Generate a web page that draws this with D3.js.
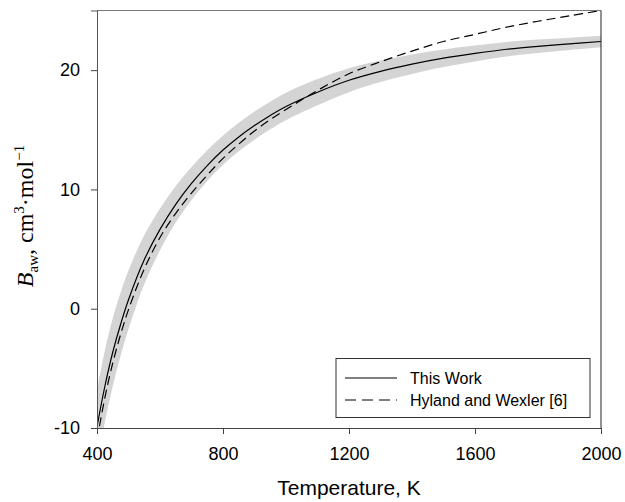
<!DOCTYPE html>
<html>
<head>
<meta charset="utf-8">
<script src="https://cdn.jsdelivr.net/npm/d3@7"></script>
<style>
  body { margin: 0; background: #fff; }
  svg { display: block; }
</style>
</head>
<body>
<svg id="chart" width="625" height="502"></svg>
<script>
// Data
const temperature = [400, 425, 450, 475, 500, 550, 600, 650, 700, 750, 800, 850, 900, 950, 1000,
                     1100, 1200, 1300, 1400, 1500, 1600, 1700, 1800, 1900, 2000];
const thisWork = [-9.9, -6.5, -3.65, -1.3, 0.75, 4.1, 6.65, 8.75, 10.5, 12.0, 13.3, 14.4, 15.35, 16.2, 16.95,
                  18.15, 19.15, 19.9, 20.5, 21.0, 21.4, 21.75, 22.0, 22.2, 22.4];
const thisWorkUnc = [3.1, 3.0, 2.85, 2.65, 2.45, 2.05, 1.75, 1.53, 1.38, 1.29, 1.23, 1.2, 1.18, 1.16, 1.15,
                     1.1, 1.0, 0.9, 0.82, 0.74, 0.67, 0.61, 0.56, 0.52, 0.49];
const hylandWexler = [-11.0, -7.45, -4.55, -2.15, -0.08, 3.34, 5.97, 8.0, 9.7, 11.2, 12.6, 13.8, 14.9, 15.85, 16.7,
                      18.3, 19.7, 20.7, 21.6, 22.4, 23.0, 23.6, 24.1, 24.55, 25.0];
const xTicks = [400, 800, 1200, 1600, 2000];
const yTicks = [-10, 0, 10, 20];
const legendLabels = ["This Work", "Hyland and Wexler [6]"];

const margin = { top: 10.5, right: 24, bottom: 74, left: 97 };
const width = 625, height = 502;
const svg = d3.select("#chart");

const x = d3.scaleLinear().domain([400, 2000]).range([margin.left, width - margin.right]);
const y = d3.scaleLinear().domain([-10, 25]).range([height - margin.bottom, margin.top]);
const curve = d3.curveCatmullRom.alpha(0.5);

const rows = temperature.map((t, i) => ({ t, w: thisWork[i], u: thisWorkUnc[i], h: hylandWexler[i] }));

svg.append("clipPath").attr("id", "plot-clip")
  .append("rect")
  .attr("x", margin.left).attr("y", margin.top)
  .attr("width", x.range()[1] - margin.left)
  .attr("height", y.range()[0] - margin.top);

const plot = svg.append("g").attr("clip-path", "url(#plot-clip)");

// uncertainty band
plot.append("path")
  .datum(rows)
  .attr("fill", "#d4d4d4")
  .attr("d", d3.area()
    .curve(curve)
    .x(d => x(d.t))
    .y0(d => y(d.w - d.u))
    .y1(d => y(d.w + d.u)));

// Hyland and Wexler
plot.append("path")
  .datum(rows)
  .attr("fill", "none")
  .attr("stroke", "#000")
  .attr("stroke-width", 1.2)
  .attr("stroke-dasharray", "9,5")
  .attr("d", d3.line().curve(curve).x(d => x(d.t)).y(d => y(d.h)));

// This work
plot.append("path")
  .datum(rows)
  .attr("fill", "none")
  .attr("stroke", "#000")
  .attr("stroke-width", 1.2)
  .attr("d", d3.line().curve(curve).x(d => x(d.t)).y(d => y(d.w)));

// frame: top lighter, right dark
svg.append("line")
  .attr("x1", margin.left).attr("x2", x.range()[1])
  .attr("y1", margin.top).attr("y2", margin.top)
  .attr("stroke", "#777");
svg.append("line")
  .attr("x1", x.range()[1]).attr("x2", x.range()[1])
  .attr("y1", margin.top).attr("y2", y.range()[0])
  .attr("stroke", "#222");

// axes
const xAxis = d3.axisBottom(x).tickValues(xTicks).tickSize(6).tickPadding(13)
  .tickFormat(d => String(d));
const yAxis = d3.axisLeft(y).tickValues(yTicks).tickSize(6).tickPadding(11)
  .tickFormat(d => String(d));

svg.append("g")
  .attr("transform", "translate(0," + y.range()[0] + ")")
  .call(xAxis)
  .call(g => g.select(".domain").attr("stroke", "#444"))
  .call(g => g.selectAll(".tick line").attr("stroke", "#444"))
  .selectAll("text")
  .style("font-family", "'Liberation Sans', Arial, sans-serif")
  .style("font-size", "18px")
  .attr("fill", "#000");

svg.append("g")
  .attr("transform", "translate(" + margin.left + ",0)")
  .call(yAxis)
  .call(g => g.select(".domain").attr("stroke", "#555"))
  .call(g => g.selectAll(".tick line").attr("stroke", "#444"))
  .selectAll("text")
  .style("font-family", "'Liberation Sans', Arial, sans-serif")
  .style("font-size", "18px")
  .attr("fill", "#000");

// axis titles
svg.append("text")
  .attr("x", (margin.left + x.range()[1]) / 2)
  .attr("y", 495)
  .attr("text-anchor", "middle")
  .style("font-family", "'Liberation Sans', Arial, sans-serif")
  .style("font-size", "21px")
  .text("Temperature, K");

const yTitle = svg.append("text")
  .attr("transform", "translate(33," + 216 + ") rotate(-90)")
  .attr("text-anchor", "middle")
  .style("font-family", "'Liberation Serif', 'Times New Roman', serif")
  .style("font-size", "24px");
yTitle.append("tspan").style("font-style", "italic").text("B");
yTitle.append("tspan").attr("dy", 5).style("font-size", "15px").text("aw");
yTitle.append("tspan").attr("dy", -5).text(", cm");
yTitle.append("tspan").attr("dy", -9).style("font-size", "15px").text("3");
yTitle.append("tspan").attr("dy", 9).text("·mol");
yTitle.append("tspan").attr("dy", -9).style("font-size", "15px").text("−1");

// legend
const legend = svg.append("g");
legend.append("rect")
  .attr("x", 336).attr("y", 358.5)
  .attr("width", 254).attr("height", 59)
  .attr("fill", "#fff")
  .attr("stroke", "#333")
  .attr("stroke-width", 1);

legendLabels.forEach((label, i) => {
  const ly = 378 + i * 22;
  legend.append("line")
    .attr("x1", 345).attr("x2", 397)
    .attr("y1", ly).attr("y2", ly)
    .attr("stroke", "#000")
    .attr("stroke-width", 1)
    .attr("stroke-dasharray", i === 1 ? "11,6" : null);
  legend.append("text")
    .attr("x", 410).attr("y", ly + 5.5)
    .style("font-family", "'Liberation Sans', Arial, sans-serif")
    .style("font-size", "16px")
    .text(label);
});
</script>
</body>
</html>
